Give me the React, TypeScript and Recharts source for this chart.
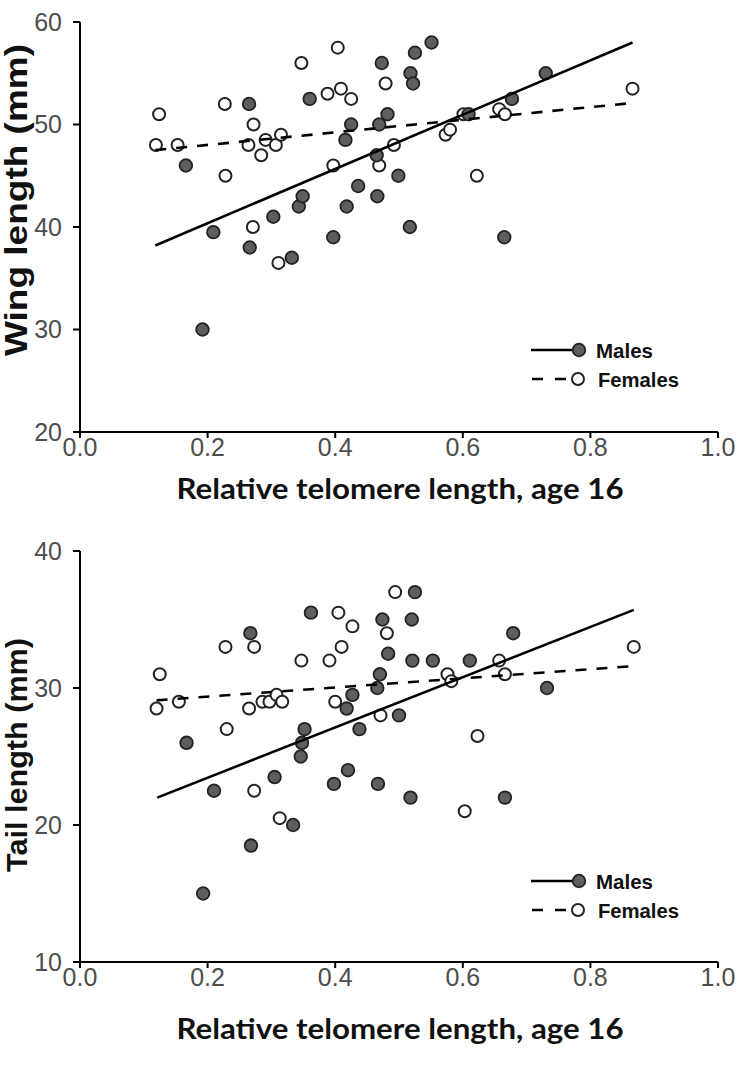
import React from 'react';
import { ScatterChart, Scatter, XAxis, YAxis } from 'recharts';

// x = relative telomere length, y = length in mm
const xTicks = [0, 0.2, 0.4, 0.6, 0.8, 1.0];
const wingTicks = [20, 30, 40, 50, 60];
const tailTicks = [10, 20, 30, 40];

const wingMales = [
  [0.166, 46], [0.192, 30], [0.209, 39.5], [0.265, 52], [0.266, 38], [0.303, 41],
  [0.332, 37], [0.343, 42], [0.349, 43], [0.36, 52.5], [0.397, 39], [0.416, 48.5],
  [0.418, 42], [0.425, 50], [0.436, 44], [0.466, 43], [0.465, 47], [0.469, 50],
  [0.473, 56], [0.482, 51], [0.499, 45], [0.517, 40], [0.518, 55], [0.522, 54],
  [0.525, 57], [0.551, 58], [0.609, 51], [0.665, 39], [0.677, 52.5], [0.73, 55],
];
const wingFemales = [
  [0.119, 48], [0.124, 51], [0.153, 48], [0.227, 52], [0.228, 45], [0.264, 48],
  [0.271, 40], [0.272, 50], [0.284, 47], [0.291, 48.5], [0.307, 48], [0.311, 36.5],
  [0.315, 49], [0.347, 56], [0.388, 53], [0.397, 46], [0.404, 57.5], [0.409, 53.5],
  [0.425, 52.5], [0.469, 46], [0.479, 54], [0.492, 48], [0.573, 49], [0.58, 49.5],
  [0.601, 51], [0.622, 45], [0.657, 51.5], [0.666, 51], [0.866, 53.5],
];
const wingMaleFit = [[0.118, 38.2], [0.866, 58.0]];
const wingFemaleFit = [[0.118, 47.5], [0.866, 52.1]];

const tailMales = [
  [0.167, 26], [0.193, 15], [0.21, 22.5], [0.267, 34], [0.268, 18.5], [0.305, 23.5],
  [0.334, 20], [0.346, 25], [0.348, 26], [0.352, 27], [0.362, 35.5], [0.398, 23],
  [0.418, 28.5], [0.42, 24], [0.427, 29.5], [0.438, 27], [0.466, 30], [0.467, 23],
  [0.47, 31], [0.474, 35], [0.483, 32.5], [0.5, 28], [0.518, 22], [0.52, 35],
  [0.521, 32], [0.525, 37], [0.553, 32], [0.611, 32], [0.666, 22], [0.679, 34], [0.732, 30],
];
const tailFemales = [
  [0.12, 28.5], [0.125, 31], [0.155, 29], [0.228, 33], [0.23, 27], [0.265, 28.5],
  [0.273, 33], [0.273, 22.5], [0.286, 29], [0.297, 29], [0.308, 29.5], [0.313, 20.5],
  [0.317, 29], [0.347, 32], [0.391, 32], [0.4, 29], [0.405, 35.5], [0.41, 33],
  [0.427, 34.5], [0.471, 28], [0.481, 34], [0.494, 37], [0.576, 31], [0.582, 30.5],
  [0.603, 21], [0.623, 26.5], [0.657, 32], [0.666, 31], [0.868, 33],
];
const tailMaleFit = [[0.121, 22.0], [0.868, 35.7]];
const tailFemaleFit = [[0.12, 29.1], [0.868, 31.6]];

const toPts = (arr: number[][]) => arr.map(([x, y]) => ({ x, y }));

const axisStyle = { stroke: '#000', strokeWidth: 2 };
const tickStyle = { fill: '#4d4d4d', fontSize: 25, fontFamily: '"Liberation Sans", Arial, sans-serif' };

const filledDot = (p: any) => (
  <circle cx={p.cx} cy={p.cy} r={6.3} fill="#5e5e5e" stroke="#222" strokeWidth={1.8} />
);
const openDot = (p: any) => (
  <circle cx={p.cx} cy={p.cy} r={6} fill="#fff" stroke="#222" strokeWidth={2} />
);
const noDot = () => <g />;

const boldSans = '"Liberation Sans", Arial, sans-serif';

interface PanelProps {
  top: number;
  height: number;
  marginTop: number;
  marginBottom: number;
  yDomain: number[];
  yTicks: number[];
  males: number[][];
  females: number[][];
  maleFit: number[][];
  femaleFit: number[][];
  yTitle: string;
  yTitleSize: number;
  yTitleLen: number;
  yTitleY: number;
  xTitleY: number;
  legendY: number;
}

const Panel = (props: PanelProps) => {
  const { top, height, marginTop, marginBottom, yDomain, yTicks, males, females, maleFit, femaleFit,
    yTitle, yTitleSize, yTitleLen, yTitleY, xTitleY, legendY } = props;
  return (
    <div style={{ position: 'absolute', left: 0, top, width: 750, height }}>
      <ScatterChart width={750} height={height} margin={{ top: marginTop, right: 32, bottom: marginBottom, left: 0 }}>
        <XAxis type="number" dataKey="x" domain={[0, 1]} ticks={xTicks} interval={0}
          tickFormatter={(v: number) => v.toFixed(1)} height={40}
          axisLine={axisStyle} tickLine={axisStyle} tickSize={6} tickMargin={0} tick={tickStyle} />
        <YAxis type="number" dataKey="y" domain={yDomain} ticks={yTicks} interval={0} width={80}
          axisLine={axisStyle} tickLine={axisStyle} tickSize={7} tickMargin={11} tick={tickStyle} />
        <Scatter data={toPts(females)} shape={openDot} isAnimationActive={false} />
        <Scatter data={toPts(males)} shape={filledDot} isAnimationActive={false} />
        <Scatter data={toPts(femaleFit)} shape={noDot} isAnimationActive={false}
          line={{ stroke: '#000', strokeWidth: 2.6, strokeDasharray: '11 10' }} />
        <Scatter data={toPts(maleFit)} shape={noDot} isAnimationActive={false}
          line={{ stroke: '#000', strokeWidth: 2.6 }} />
      </ScatterChart>
      <svg width={750} height={height} style={{ position: 'absolute', left: 0, top: 0, pointerEvents: 'none' }}>
        <text transform={`translate(27, ${yTitleY}) rotate(-90)`} textAnchor="middle"
          fontFamily={boldSans} fontWeight={700} fontSize={yTitleSize} fill="#111"
          textLength={yTitleLen} lengthAdjust="spacingAndGlyphs">{yTitle}</text>
        <text x={400} y={xTitleY} textAnchor="middle" fontFamily="Lato, 'Open Sans', sans-serif"
          fontWeight={700} fontSize={28} fill="#111" textLength={447} lengthAdjust="spacingAndGlyphs">
          Relative telomere length, age 16
        </text>
        {/* legend */}
        <line x1={531} y1={legendY} x2={574} y2={legendY} stroke="#000" strokeWidth={2.6} />
        <circle cx={579} cy={legendY} r={6.3} fill="#5e5e5e" stroke="#222" strokeWidth={1.8} />
        <text x={596} y={legendY + 8} fontFamily={boldSans} fontWeight={700} fontSize={21} fill="#111"
          textLength={57} lengthAdjust="spacingAndGlyphs">Males</text>
        <line x1={532} y1={legendY + 29} x2={568} y2={legendY + 29} stroke="#000" strokeWidth={2.6} strokeDasharray="11 12" />
        <circle cx={578} cy={legendY + 29} r={6} fill="#fff" stroke="#222" strokeWidth={2} />
        <text x={598} y={legendY + 37} fontFamily={boldSans} fontWeight={700} fontSize={21} fill="#111"
          textLength={81} lengthAdjust="spacingAndGlyphs">Females</text>
      </svg>
    </div>
  );
};

export default function App() {
  return (
    <div style={{ position: 'absolute', left: 0, top: 0, width: 750, height: 1071, background: '#fff' }}>
      <Panel top={0} height={530} marginTop={22} marginBottom={58} yDomain={[20, 60]} yTicks={wingTicks}
        males={wingMales} females={wingFemales} maleFit={wingMaleFit} femaleFit={wingFemaleFit}
        yTitle="Wing length (mm)" yTitleSize={31} yTitleLen={312} yTitleY={200} xTitleY={499} legendY={350} />
      <Panel top={530} height={541} marginTop={21} marginBottom={69} yDomain={[10, 40]} yTicks={tailTicks}
        males={tailMales} females={tailFemales} maleFit={tailMaleFit} femaleFit={tailFemaleFit}
        yTitle="Tail length (mm)" yTitleSize={30} yTitleLen={234} yTitleY={225} xTitleY={509} legendY={351} />
    </div>
  );
}
